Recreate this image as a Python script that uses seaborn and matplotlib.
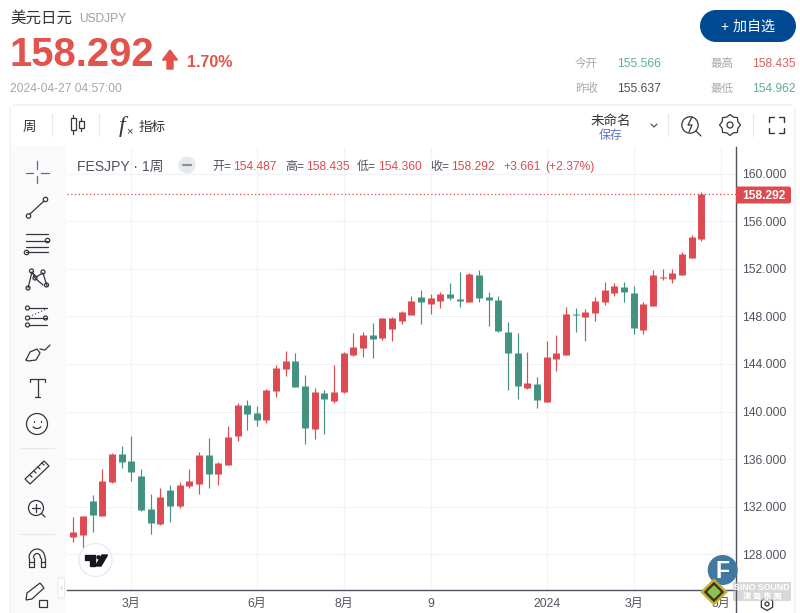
import numpy as np
import pandas as pd
import matplotlib
matplotlib.use('Agg')
import matplotlib.pyplot as plt
from matplotlib.patches import Circle, FancyBboxPatch, Polygon, Rectangle
import seaborn as sns

# weekly candles, bodies and wicks
opens = [129.45, 129.62, 132.48, 131.22, 134.08, 136.43, 135.84, 134.58, 131.81, 130.55, 133.40, 132.06, 133.74, 133.91, 136.35, 134.75,
         135.50, 137.94, 140.55, 139.87, 139.29, 141.72, 143.57, 144.24, 142.14, 138.53, 141.55, 140.88, 141.64, 144.75, 145.34, 146.43,
         146.18, 146.93, 147.60, 148.11, 149.62, 149.03, 149.29, 149.87, 149.45, 149.20, 151.47, 149.62, 149.37, 146.68, 144.91, 141.97,
         142.31, 140.80, 144.41, 144.75, 148.20, 147.94, 148.28, 149.20, 149.96, 150.46, 149.96, 146.85, 148.87, 151.20, 151.14, 151.47,
         152.90, 154.487]
closes = [129.87, 131.22, 131.30, 134.16, 136.43, 135.76, 134.92, 131.72, 130.63, 132.81, 132.06, 133.82, 134.16, 136.35, 134.75, 135.67,
          137.86, 140.55, 139.79, 139.29, 141.81, 143.65, 144.24, 142.06, 138.61, 141.64, 141.05, 141.64, 144.91, 145.42, 146.43, 146.09,
          147.86, 147.86, 148.36, 149.29, 149.20, 149.54, 149.87, 149.54, 149.29, 151.55, 149.54, 149.37, 146.77, 144.91, 142.14, 142.39,
          140.97, 144.58, 144.91, 148.20, 148.15, 148.36, 149.29, 150.21, 150.55, 150.04, 147.02, 149.03, 151.47, 151.30, 151.64, 153.23,
          154.67, 158.292]
highs = [131.13, 131.22, 132.98, 135.17, 136.48, 137.10, 137.94, 135.17, 133.07, 133.57, 133.82, 134.07, 135.17, 136.60, 137.77, 135.76,
         138.78, 140.71, 140.97, 140.46, 141.89, 143.91, 145.08, 144.91, 143.07, 141.97, 141.81, 143.91, 145.00, 146.60, 146.68, 147.44,
         147.86, 147.94, 148.45, 149.71, 150.21, 149.87, 150.04, 150.80, 151.72, 151.64, 151.89, 150.04, 149.71, 147.52, 146.60, 145.00,
         142.90, 145.92, 146.43, 148.78, 148.70, 148.61, 149.62, 150.88, 150.80, 150.88, 150.55, 149.20, 151.89, 151.97, 151.97, 153.40,
         154.83, 158.435]
lows = [129.03, 128.50, 129.87, 131.20, 134.02, 135.25, 134.16, 131.67, 129.71, 130.46, 130.71, 131.89, 133.57, 133.07, 133.57, 133.82,
        135.50, 137.52, 138.45, 138.78, 139.03, 141.22, 142.98, 142.06, 137.27, 137.69, 138.11, 140.71, 141.55, 144.66, 144.58, 144.50,
        146.00, 145.92, 147.35, 148.10, 147.35, 148.19, 148.70, 149.37, 148.78, 149.20, 149.20, 147.18, 146.68, 141.81, 141.05, 141.89,
        140.29, 140.80, 143.40, 144.75, 146.68, 145.92, 147.60, 148.95, 149.71, 149.20, 146.51, 146.51, 148.87, 151.05, 150.80, 151.47,
        152.90, 154.360]

price_ticks = [128, 132, 136, 140, 144, 148, 152, 156, 160]
month_ticks = [6, 19, 28, 37, 49, 58, 67]
month_labels = ['3月', '6月', '8月', '9', '2024', '3月', '5月']
last_price = 158.292

RED = '#dd4a52'
GREEN = '#43927f'
GRID = '#f1f3f6'
AXIS = '#50535e'
INK = '#2e3138'
ICON = '#33363d'

sns.set_theme(style='white')
plt.rcParams['font.family'] = ['Liberation Sans', 'Noto Sans CJK SC', 'DejaVu Sans']

candles = pd.DataFrame({'week': range(len(opens)), 'open': opens, 'close': closes, 'high': highs, 'low': lows})
candles['direction'] = np.where(candles['close'] >= candles['open'], 'up', 'down')
bodies = candles.melt(id_vars=['week', 'direction'], value_vars=['open', 'close'], value_name='price')
wicks = candles.melt(id_vars=['week', 'direction'], value_vars=['low', 'high'], value_name='price')
palette = {'up': RED, 'down': GREEN}

fig = plt.figure(figsize=(8, 6.13), dpi=100, facecolor='white')
ax = fig.add_axes([67 / 800, 1 - 589.5 / 613, 668.5 / 800, 442.5 / 613])

sns.lineplot(data=wicks, x='week', y='price', hue='direction', units='week', estimator=None, palette=palette,
             linewidth=0.85, solid_capstyle='butt', legend=False, ax=ax, zorder=3)
sns.lineplot(data=bodies, x='week', y='price', hue='direction', units='week', estimator=None, palette=palette,
             linewidth=5.0, solid_capstyle='butt', legend=False, ax=ax, zorder=4)

ax.set_xlim(-0.65, 68.55)
ax.set_ylim(125.04, 162.23)
ax.set_xticks(month_ticks)
ax.set_xticklabels(month_labels, fontsize=8.7, color=AXIS)
ax.set_yticks(price_ticks)
ax.set_yticklabels(['%.3f' % p for p in price_ticks], fontsize=8.7, color=AXIS)
ax.yaxis.tick_right()
ax.tick_params(axis='both', length=0)
ax.tick_params(axis='x', pad=6)
ax.tick_params(axis='y', pad=5)
ax.set_xlabel('')
ax.set_ylabel('')
ax.grid(True, color=GRID, linewidth=0.9)
ax.set_axisbelow(True)
sns.despine(ax=ax, left=True, top=True, right=False, bottom=False)
for side in ['right', 'bottom']:
    ax.spines[side].set_color(AXIS)
    ax.spines[side].set_linewidth(1.0)
ax.axhline(last_price, color=RED, linewidth=0.9, linestyle=(0, (1, 2)), zorder=2)

# page chrome, in pixel coordinates
ui = fig.add_axes([0, 0, 1, 1], zorder=10)
ui.set_xlim(0, 800)
ui.set_ylim(613, 0)
ui.axis('off')
ui.patch.set_alpha(0)


def txt(x, y, s, px, color=INK, ha='left', weight='normal', **kw):
    # y is the middle of the digits, so latin and cjk sit on one baseline
    return ui.text(x, y + px * 0.36, s, fontsize=px * 0.72, color=color, ha=ha, va='baseline', fontweight=weight, **kw)


def line(xs, ys, color=ICON, lw=0.9, **kw):
    ui.plot(xs, ys, color=color, lw=lw, solid_capstyle='round', **kw)


def ring(x, y, r, color=ICON, lw=0.9, face='none'):
    ui.add_patch(Circle((x, y), r, fill=face != 'none', facecolor=face, edgecolor=color, lw=lw))


# header
txt(10, 17, '美元日元', 15.5, '#333333')
txt(79, 17.5, 'USDJPY', 12, '#9a9ea6')
txt(10, 52, '158.292', 40, '#e2534b', weight='bold')
ui.add_patch(Polygon([(170, 50), (177.5, 60), (173, 60), (173, 69), (167, 69), (167, 60), (162.5, 60)], color='#e2534b'))
txt(187, 61, '1.70%', 16, '#e2534b', weight='bold')
txt(10, 87.5, '2024-04-27 04:57:00', 12, '#a3a6ad')
ui.add_patch(Rectangle((716, 10), 64, 32, color='#004a94', lw=0))
ui.add_patch(Circle((716, 26), 16, color='#004a94', lw=0))
ui.add_patch(Circle((780, 26), 16, color='#004a94', lw=0))
txt(748, 26, '+ 加自选', 14, 'white', ha='center')
txt(575, 63, '今开', 11.5, '#a6a9af')
txt(617, 63, '155.566', 12, '#5fae93')
txt(710, 63, '最高', 11.5, '#a6a9af')
txt(752, 63, '158.435', 12, '#d9635f')
txt(575, 87.5, '昨收', 11.5, '#a6a9af')
txt(617, 87.5, '155.637', 12, '#4a4d55')
txt(710, 87.5, '最低', 11.5, '#a6a9af')
txt(752, 87.5, '154.962', 12, '#5fae93')

# panel frame and toolbars
ui.add_patch(FancyBboxPatch((10, 105), 785, 520, boxstyle='round,pad=0,rounding_size=6', fill=False, edgecolor='#eceef1', lw=0.9))
ui.add_patch(Rectangle((11, 145), 55, 468, facecolor='#fafafb', edgecolor='none'))
ui.add_patch(Rectangle((11, 106), 783, 39, facecolor='white', edgecolor='none'))
for x in [52, 99, 668, 753]:
    line([x, x], [114, 136], color='#e6e8ec')
txt(29, 126, '周', 13.5, '#333333', ha='center')
for x, y0, y1, wy0, wy1 in [(73, 118, 130, 115, 134), (81, 121, 128, 118, 131)]:
    ui.add_patch(Rectangle((x - 2.5, y0), 5, y1 - y0, fill=False, edgecolor=ICON, lw=0.9))
    line([x, x], [wy0, y0])
    line([x, x], [y1, wy1])
ui.text(122, 132, 'f', fontsize=17, color=ICON, ha='center', va='baseline', family='Liberation Serif', style='italic')
txt(126, 130, '×', 11, ICON)
txt(139, 126, '指标', 13.5, '#333333')
txt(611, 120.5, '未命名', 13.5, '#333333', ha='center')
txt(611, 134.5, '保存', 12, '#5a78c8', ha='center')
line([651, 654, 657], [124, 127, 124], color='#555555')
ring(690, 125, 8.2)
line([696, 701], [131, 136])
line([692, 688, 692, 689], [117, 125, 125, 132])
ring(730, 125, 3)
cog_a = np.radians(np.arange(0, 360, 22.5))
cog_r = np.where(np.arange(16) % 2 == 0, 10.5, 8.5)
ui.add_patch(Polygon(np.column_stack([730 + cog_r * np.cos(cog_a), 125 + cog_r * np.sin(cog_a)]), fill=False, edgecolor=ICON, lw=0.9))
for cx, cy, dx, dy in [(769, 117, 1, 1), (784, 117, -1, 1), (769, 133, 1, -1), (784, 133, -1, -1)]:
    line([cx, cx, cx + dx * 5], [cy + dy * 5, cy, cy], lw=1.0)

# legend row
txt(77, 165.5, 'FESJPY · 1周', 14, '#50535e')
ring(187, 165, 8, color='#e7e9ee', face='#e7e9ee')
line([183, 191], [165, 165], color='#8a8e96', lw=1.6)
for x, s, c in [(212, '开=', '#50535e'), (233, '154.487', RED), (285, '高=', '#50535e'), (306, '158.435', RED),
                (357, '低=', '#50535e'), (378, '154.360', RED), (430, '收=', '#50535e'), (451, '158.292', RED),
                (503, '+3.661', RED), (545, '(+2.37%)', RED)]:
    txt(x, 165.5, s, 12, c)

# last price tag
ui.add_patch(FancyBboxPatch((736, 186.5), 55, 17, boxstyle='round,pad=0,rounding_size=2', facecolor=RED, edgecolor='none'))
txt(763.5, 195, '158.292', 12, 'white', ha='center', weight='bold')
line([735.5, 735.5], [589, 613], color=AXIS, lw=1.0)

# drawing tools on the left
BLUE = '#4c7196'
line([37.3, 37.3], [161, 169], color=BLUE)
line([37.3, 37.3], [176, 183], color=BLUE)
line([26, 33], [172.5, 172.5], color=BLUE)
line([41, 49], [172.5, 172.5], color=BLUE)
line([30, 44], [214, 201])
ring(28.5, 216, 2.2)
ring(45.5, 199.5, 2.2)
for y in [234, 241, 247, 252]:
    line([26, 48], [y, y])
ring(47.5, 240.5, 2.2, face='white')
ring(26.5, 252.5, 2.2, face='white')
line([28, 32, 36, 43, 47], [288, 272, 277, 273, 286])
line([32, 35, 43], [272, 278, 285])
for x, y in [(28, 288), (31.5, 271), (35, 278), (43, 272), (46.5, 285)]:
    ring(x, y, 2, face='white')
for y in [308, 318, 325]:
    line([29, 47], [y, y])
line([29, 46], [317, 309], color='#555555', linestyle=':')
for x, y in [(27.5, 308), (27.5, 318), (27.5, 325), (45.5, 318)]:
    ring(x, y, 2, face='white')
line([26, 30, 37, 40, 36, 28, 26], [360, 352, 349, 353, 360, 361, 360])
line([40, 45, 50], [349, 350, 345])
line([30, 30, 45, 45], [382, 379, 379, 382])
line([37.5, 37.5], [379, 397])
line([35, 40], [397, 397])
ring(37, 424, 10.5)
line([33.5, 33.5], [421, 422])
line([40.5, 40.5], [421, 422])
ui.plot(37 + 4.5 * np.cos(np.linspace(0.5, 2.6, 10)), 425 + 3.5 * np.sin(np.linspace(0.5, 2.6, 10)), color=ICON, lw=0.9)
line([20, 54], [448, 448], color='#e6e8ec')
ui.add_patch(Polygon([(25, 479), (44, 461), (49, 466), (30, 484)], fill=False, edgecolor=ICON, lw=0.9))
for i in range(4):
    line([30 + i * 4, 32 + i * 4], [475 - i * 4, 477 - i * 4])
ring(36, 508, 7.5)
line([32, 40], [508, 508])
line([36, 36], [504, 512])
line([41.5, 45], [513.5, 517])
line([20, 54], [534, 534], color='#e6e8ec')
ui.plot(37 + 8 * np.cos(np.linspace(np.pi, 2 * np.pi, 16)), 558 + 9 * np.sin(np.linspace(np.pi, 2 * np.pi, 16)), color=ICON, lw=0.9)
ui.plot(37 + 3.5 * np.cos(np.linspace(np.pi, 2 * np.pi, 12)), 558 + 4.5 * np.sin(np.linspace(np.pi, 2 * np.pi, 12)), color=ICON, lw=0.9)
for x0, x1 in [(29, 33.5), (40.5, 45)]:
    line([x0, x0, x1, x1], [558, 567, 567, 558])
    line([x0, x1], [562, 562])
ui.add_patch(Polygon([(27, 593), (40, 583), (44, 588), (32, 599), (26, 600)], fill=False, edgecolor=ICON, lw=0.9))
ui.add_patch(Rectangle((38.5, 600), 8, 7, fill=False, edgecolor=ICON, lw=0.9))
ui.add_patch(FancyBboxPatch((58, 578), 6.5, 20, boxstyle='round,pad=0,rounding_size=2', facecolor='white', edgecolor='#e6e8ec', lw=0.8))
txt(61.2, 587.5, '‹', 10, '#bbbbbb', ha='center')

# TradingView badge
ring(95.5, 560, 16.5, color='#e6e8ec', face='white')
ui.add_patch(Polygon([(85, 555), (95, 555), (95, 566), (90, 566), (90, 559.5), (85, 559.5)], color='#14171f'))
ui.add_patch(Circle((98.5, 557.3), 2.2, color='#14171f', lw=0))
ui.add_patch(Polygon([(102, 555), (107.5, 555), (101, 566), (95.5, 566)], color='#14171f'))

# bottom right gear
hexa = [(767 + 6.5 * np.cos(a), 604 + 6.5 * np.sin(a)) for a in np.radians(np.arange(30, 390, 60))]
ui.add_patch(Polygon(hexa, fill=False, edgecolor=ICON, lw=0.9))
ring(767, 604, 2)

# watermark
ui.add_patch(Circle((722.7, 570), 15, color='#41789f', lw=0))
txt(722.7, 570, 'F', 23, 'white', ha='center', weight='bold')
ui.add_patch(Polygon([(714, 580), (726, 592), (714, 604), (702, 592)], facecolor='#3a3320', edgecolor='#c7ab2d', lw=1.8))
ui.add_patch(Polygon([(714, 586), (720, 592), (714, 598), (708, 592)], color='#8cc152'))
ui.add_patch(Rectangle((733, 582), 58, 19, facecolor='#b8b8b8', alpha=0.55, edgecolor='none'))
txt(762, 586.5, 'SINO SOUND', 8.8, 'white', ha='center', weight='bold')
txt(762, 596.5, '漢 聲 集 團', 8, 'white', ha='center', weight='bold')

fig.savefig('out.png', dpi=100)
